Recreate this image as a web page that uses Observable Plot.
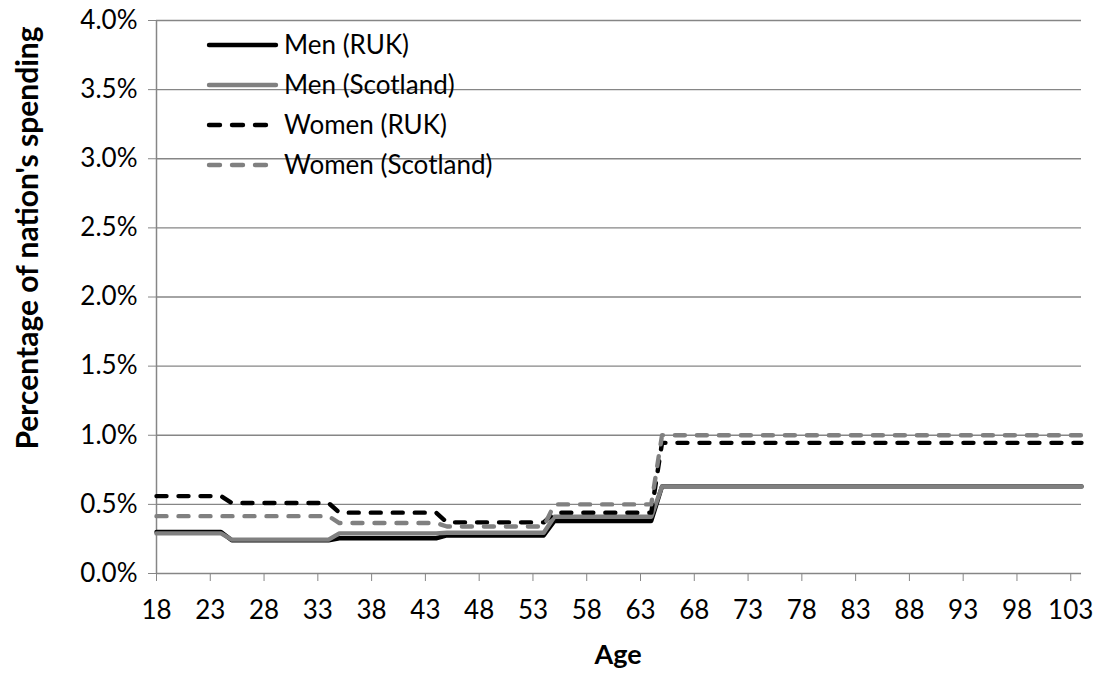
<!DOCTYPE html>
<html>
<head>
<meta charset="utf-8">
<script src="https://cdn.jsdelivr.net/npm/d3@7"></script>
<script src="https://cdn.jsdelivr.net/npm/@observablehq/plot@0.6"></script>
<style>
  html, body { margin: 0; padding: 0; background: #fff; }
  #chart { width: 1098px; height: 675px; }
</style>
</head>
<body>
<div id="chart"></div>
<script>
// Age band edges (each band is flat; Excel draws sloped joins between bands)
const ages = [18, 24, 25, 34, 35, 44, 45, 54, 55, 64, 65, 104];
// Percentage of nation's spending (%)
const menRUK        = [0.30, 0.30, 0.24, 0.24, 0.255, 0.255, 0.275, 0.275, 0.38, 0.38, 0.63, 0.63];
const menScotland   = [0.29, 0.29, 0.245, 0.245, 0.29, 0.29, 0.295, 0.295, 0.41, 0.41, 0.63, 0.63];
const womenRUK      = [0.56, 0.56, 0.51, 0.51, 0.44, 0.44, 0.37, 0.37, 0.44, 0.44, 0.945, 0.945];
const womenScotland = [0.415, 0.415, 0.415, 0.415, 0.365, 0.365, 0.34, 0.34, 0.50, 0.50, 1.0, 1.0];

const seriesNames = ["Men (RUK)", "Men (Scotland)", "Women (RUK)", "Women (Scotland)"];
const seriesValues = [menRUK, menScotland, womenRUK, womenScotland];
const seriesColors = ["#000000", "#808080", "#000000", "#808080"];
const seriesDash = [null, null, "10,12", "10,12"];

const xTicks = [18, 23, 28, 33, 38, 43, 48, 53, 58, 63, 68, 73, 78, 83, 88, 93, 98, 103];
const yTicks = [0, 0.5, 1.0, 1.5, 2.0, 2.5, 3.0, 3.5, 4.0];

const FONT = "Lato, 'Open Sans', sans-serif";
const AXIS = "#868686";
const FS = 26;

const lineMarks = seriesNames.map((name, i) => {
  const data = ages.map((a, j) => ({age: a, value: seriesValues[i][j], series: name}));
  return Plot.line(data, {
    x: "age", y: "value",
    stroke: seriesColors[i], strokeWidth: 4.4,
    strokeDasharray: seriesDash[i] || undefined,
    strokeLinecap: "round", strokeLinejoin: "round"
  });
});

const chart = Plot.plot({
  width: 1098,
  height: 675,
  marginTop: 20,
  marginBottom: 102,
  marginLeft: 156,
  marginRight: 17,
  style: {fontFamily: FONT, fontSize: FS + "px", color: "#000", background: "#fff"},
  x: {domain: [18, 104], ticks: xTicks, label: null},
  y: {domain: [0, 4], ticks: yTicks, label: null},
  marks: [
    Plot.gridY(yTicks.filter(d => d > 0), {stroke: AXIS, strokeOpacity: 1, strokeWidth: 1.3}),
    Plot.axisY({ticks: yTicks, tickSize: 8, tickPadding: 11, stroke: AXIS, strokeOpacity: 1,
      tickFormat: d => d.toFixed(1) + "%", fontSize: FS, fill: "#000", label: null}),
    Plot.axisX({ticks: xTicks, tickSize: 8, tickPadding: 19, stroke: AXIS, strokeOpacity: 1,
      tickFormat: d => String(d), fontSize: FS, fill: "#000", label: null}),
    Plot.ruleY([0], {stroke: AXIS, strokeWidth: 1.5}),
    Plot.ruleX([18], {stroke: AXIS, strokeWidth: 1.5}),
    ...lineMarks
  ]
});

document.getElementById("chart").appendChild(chart);

// Legend and axis titles
const svg = d3.select(chart);
const legend = svg.append("g")
  .attr("font-family", FONT).attr("font-size", FS).attr("text-anchor", "start");
seriesNames.forEach((name, i) => {
  const y = 45 + i * 40;
  legend.append("line")
    .attr("x1", 209).attr("x2", 276).attr("y1", y).attr("y2", y)
    .attr("stroke", seriesColors[i]).attr("stroke-width", 4.4)
    .attr("stroke-linecap", "round")
    .attr("stroke-dasharray", seriesDash[i] ? "11,12" : null);
  legend.append("text")
    .attr("x", 284).attr("y", y).attr("dy", "0.35em")
    .attr("text-anchor", "start")
    .attr("fill", "#000").text(name);
});

svg.append("text")
  .attr("x", 618).attr("y", 655).attr("dy", "0.35em")
  .attr("text-anchor", "middle")
  .attr("font-family", FONT).attr("font-size", 27).attr("font-weight", "bold")
  .text("Age");

svg.append("text")
  .attr("transform", "translate(27,238) rotate(-90)")
  .attr("dy", "0.35em")
  .attr("text-anchor", "middle")
  .attr("font-family", FONT).attr("font-size", 30).attr("font-weight", "bold")
  .text("Percentage of nation's spending");
</script>
</body>
</html>
